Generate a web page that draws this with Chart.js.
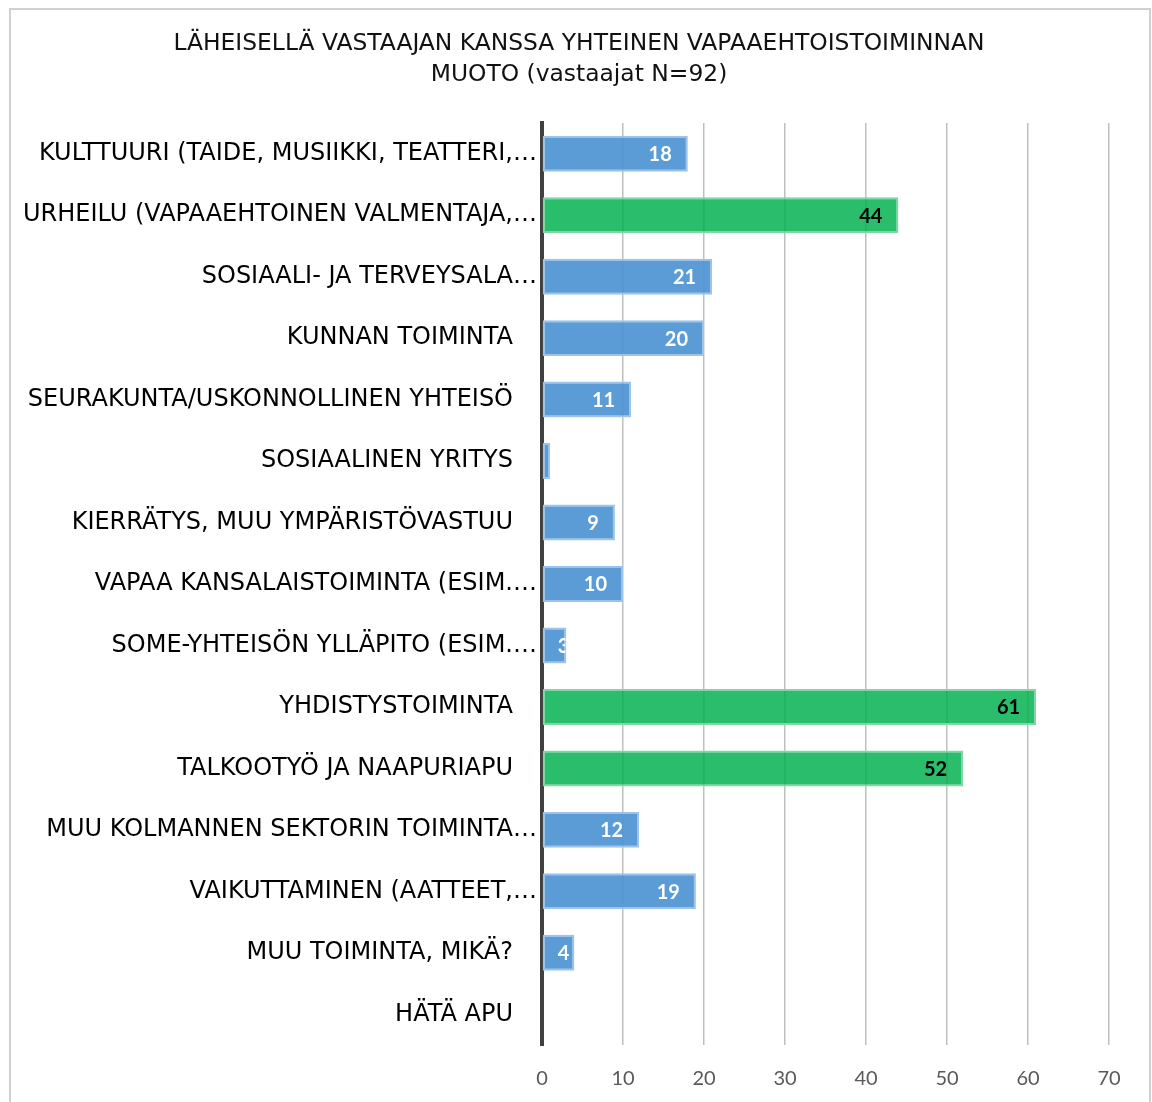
<!DOCTYPE html>
<html lang="fi">
<head>
<meta charset="utf-8">
<title>Läheisellä vastaajan kanssa yhteinen vapaaehtoistoiminnan muoto</title>
<script src="https://cdn.jsdelivr.net/npm/chart.js@4.4.1/dist/chart.umd.min.js"></script>
<style>
  html, body { margin: 0; padding: 0; background: #fff; overflow: hidden; }
  #frame { position: absolute; left: 9px; top: 8px; width: 1142px; height: 1120px; border: 2px solid #d0d0d0; box-sizing: border-box; }
  #wrap { position: absolute; left: 0; top: 0; width: 1152px; height: 1102px; }
</style>
</head>
<body>
<div id="frame"></div>
<div id="wrap"><canvas id="chart" width="1152" height="1102"></canvas></div>
<script>
// Chart data, top to bottom as in the picture
const titleLines = ['LÄHEISELLÄ VASTAAJAN KANSSA YHTEINEN VAPAAEHTOISTOIMINNAN', 'MUOTO (vastaajat N=92)'];

const categories = [
    'KULTTUURI (TAIDE, MUSIIKKI, TEATTERI,…',
    'URHEILU (VAPAAEHTOINEN VALMENTAJA,…',
    'SOSIAALI- JA TERVEYSALA…',
    'KUNNAN TOIMINTA',
    'SEURAKUNTA/USKONNOLLINEN YHTEISÖ',
    'SOSIAALINEN YRITYS',
    'KIERRÄTYS, MUU YMPÄRISTÖVASTUU',
    'VAPAA KANSALAISTOIMINTA (ESIM.…',
    'SOME-YHTEISÖN YLLÄPITO (ESIM.…',
    'YHDISTYSTOIMINTA',
    'TALKOOTYÖ JA NAAPURIAPU',
    'MUU KOLMANNEN SEKTORIN TOIMINTA…',
    'VAIKUTTAMINEN (AATTEET,…',
    'MUU TOIMINTA, MIKÄ?',
    'HÄTÄ APU',
];

const values = [18, 44, 21, 20, 11, 1, 9, 10, 3, 61, 52, 12, 19, 4, 0];

const xTicks = [0, 10, 20, 30, 40, 50, 60, 70];

// three largest answers are shown in green
const topThree = [...values].sort((a, b) => b - a).slice(0, 3);
const isTop = v => v > 0 && topThree.includes(v);

const BLUE = 'rgba(79,148,212,0.93)';
const BLUE_EDGE = '#9dc3e8';
const GREEN = 'rgba(0,176,80,0.84)';
const GREEN_EDGE = '#7fd8a4';

const LABEL_FONT = '"DejaVu Sans", sans-serif';
const NUM_FONT = 'Lato, "Open Sans", sans-serif';

// title centred on the chart frame (not on the plot), two lines
const frameTitle = {
    id: 'frameTitle',
    afterDraw(chart) {
        const ctx = chart.ctx;
        ctx.save();
        ctx.font = `23.4px ${LABEL_FONT}`;
        ctx.fillStyle = '#111111';
        ctx.textAlign = 'center';
        ctx.textBaseline = 'middle';
        titleLines.forEach((line, i) => ctx.fillText(line, 579, 44 + i * 31));
        ctx.restore();
    }
};

// value labels at the inner end of every bar, clipped to the bar like Excel does
const barLabels = {
    id: 'barLabels',
    afterDatasetsDraw(chart) {
        const ctx = chart.ctx;
        const meta = chart.getDatasetMeta(0);
        ctx.save();
        ctx.font = `bold 20px ${NUM_FONT}`;
        ctx.textBaseline = 'middle';
        ctx.textAlign = 'left';
        meta.data.forEach((bar, i) => {
            const v = values[i];
            if (!v) return;
            const txt = String(v);
            const w = ctx.measureText(txt).width;
            const left = Math.max(bar.base + 15, bar.x - 16 - w);
            ctx.save();
            ctx.beginPath();
            ctx.rect(bar.base, bar.y - bar.height / 2, bar.x - bar.base - 1, bar.height);
            ctx.clip();
            ctx.fillStyle = isTop(v) ? '#000000' : '#ffffff';
            ctx.fillText(txt, left, bar.y + 1);
            ctx.restore();
        });
        ctx.restore();
    }
};

new Chart(document.getElementById('chart'), {
    type: 'bar',
    data: {
        labels: categories,
        datasets: [{
            data: values,
            backgroundColor: values.map(v => isTop(v) ? GREEN : BLUE),
            borderColor: values.map(v => isTop(v) ? GREEN_EDGE : BLUE_EDGE),
            borderWidth: 2,
            borderSkipped: false,
            barPercentage: 0.585,
            categoryPercentage: 1,
        }],
    },
    options: {
        indexAxis: 'y',
        responsive: false,
        animation: false,
        layout: { padding: { left: 0, right: 43, top: 123, bottom: 0 } },
        plugins: {
            legend: { display: false },
            tooltip: { enabled: false },
            title: { display: false },
        },
        scales: {
            x: {
                min: 0, max: 70,
                afterBuildTicks(scale) { scale.ticks = xTicks.map(v => ({ value: v })); },
                afterFit(scale) { scale.height = 57; },
                grid: { color: '#bfbfbf', lineWidth: 1.5, drawTicks: false },
                border: { display: false },
                ticks: { color: '#595959', padding: 22, font: { family: NUM_FONT, size: 20 } },
            },
            y: {
                z: 1,
                afterFit(scale) { scale.width = 542; },
                grid: { display: false, drawTicks: false },
                border: { color: '#404040', width: 4 },
                ticks: {
                    color: '#000000',
                    padding: 5,
                    autoSkip: false,
                    font: { family: LABEL_FONT, size: 24 },
                    // labels Excel cut short sit right next to the axis, the others keep a gap
                    callback(v) {
                        const s = categories[v];
                        return s.endsWith('…') ? s : s + '\u2002\u2002';
                    },
                },
            },
        },
    },
    plugins: [barLabels, frameTitle],
});
</script>
</body>
</html>
